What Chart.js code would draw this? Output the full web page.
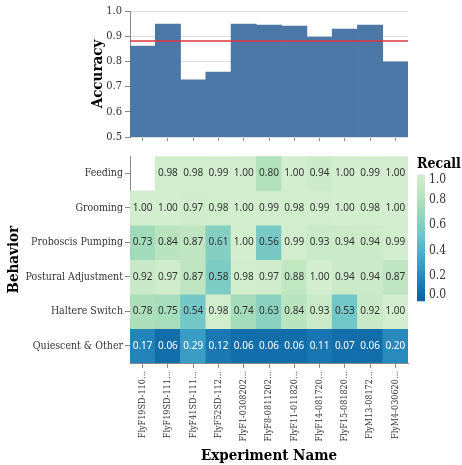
<!DOCTYPE html>
<html>
<head>
<meta charset="utf-8">
<script src="https://cdn.jsdelivr.net/npm/chart.js@4.4.1/dist/chart.umd.min.js"></script>
<style>
  body { margin: 0; background: #fff; }
  #wrap { position: relative; width: 462px; height: 465px; }
  #accuracy { position: absolute; left: 0; top: 0; }
  #recall { position: absolute; left: 0; top: 148px; }
</style>
</head>
<body>
<div id="wrap">
  <canvas id="accuracy" width="462" height="148"></canvas>
  <canvas id="recall" width="462" height="317"></canvas>
</div>
<script>
const experiments = ['FlyF19SD-110…', 'FlyF19SD-111…', 'FlyF41SD-111…', 'FlyF52SD-112…', 'FlyF1-0308202…',
  'FlyF8-0811202…', 'FlyF11-011820…', 'FlyF14-081720…', 'FlyF15-081820…', 'FlyM13-08172…', 'FlyM4-030620…'];
const accuracy = [0.861, 0.948, 0.727, 0.758, 0.948, 0.944, 0.940, 0.897, 0.928, 0.944, 0.798];
const accuracyMean = 0.881;

const behaviors = ['Feeding', 'Grooming', 'Proboscis Pumping', 'Postural Adjustment', 'Haltere Switch', 'Quiescent & Other'];
const recallFeeding = [null, 0.98, 0.98, 0.99, 1.00, 0.80, 1.00, 0.94, 1.00, 0.99, 1.00];
const recallGrooming = [1.00, 1.00, 0.97, 0.98, 1.00, 0.99, 0.98, 0.99, 1.00, 0.98, 1.00];
const recallProboscis = [0.73, 0.84, 0.87, 0.61, 1.00, 0.56, 0.99, 0.93, 0.94, 0.94, 0.99];
const recallPostural = [0.92, 0.97, 0.87, 0.58, 0.98, 0.97, 0.88, 1.00, 0.94, 0.94, 0.87];
const recallHaltere = [0.78, 0.75, 0.54, 0.98, 0.74, 0.63, 0.84, 0.93, 0.53, 0.92, 1.00];
const recallQuiescent = [0.17, 0.06, 0.29, 0.12, 0.06, 0.06, 0.06, 0.11, 0.07, 0.06, 0.20];
const recall = [recallFeeding, recallGrooming, recallProboscis, recallPostural, recallHaltere, recallQuiescent];

const legendTicks = [0, 0.2, 0.4, 0.6, 0.8, 1.0];

// greenblue scheme, light (recall 1) -> dark (recall 0)
const scheme = ['#d3eece', '#c5e8c3', '#b1e1bb', '#9bd8bb', '#82cec2', '#69c2ca',
  '#51b2cd', '#3c9fc7', '#288abd', '#1675b1', '#0b60a1'];

const serif = "'DejaVu Serif Condensed', 'DejaVu Serif', serif";
const sans = "'Noto Sans', sans-serif";

function hexToRgb(h) {
  return [parseInt(h.slice(1, 3), 16), parseInt(h.slice(3, 5), 16), parseInt(h.slice(5, 7), 16)];
}

function recallColor(v) {
  let t = (1 - Math.max(0, Math.min(1, v))) * (scheme.length - 1);
  let i = Math.min(Math.floor(t), scheme.length - 2);
  let f = t - i;
  let a = hexToRgb(scheme[i]), b = hexToRgb(scheme[i + 1]);
  let c = a.map((x, k) => Math.round(x + (b[k] - x) * f));
  return `rgb(${c[0]},${c[1]},${c[2]})`;
}

// red rule at the mean accuracy, drawn over the bars
const meanLine = {
  id: 'meanLine',
  afterDatasetsDraw(chart) {
    const ctx = chart.ctx, area = chart.chartArea;
    const y = chart.scales.y.getPixelForValue(accuracyMean);
    ctx.save();
    ctx.strokeStyle = '#e0353a';
    ctx.lineWidth = 1.5;
    ctx.beginPath();
    ctx.moveTo(area.left, y);
    ctx.lineTo(area.right, y);
    ctx.stroke();
    ctx.restore();
  }
};

new Chart(document.getElementById('accuracy'), {
  type: 'bar',
  data: {
    labels: experiments,
    datasets: [{
      data: accuracy,
      backgroundColor: '#4c78a8',
      barPercentage: 1,
      categoryPercentage: 1
    }]
  },
  options: {
    responsive: false,
    animation: false,
    layout: { padding: { top: 11, right: 54, left: 0, bottom: 0 } },
    plugins: { legend: { display: false }, tooltip: { enabled: false } },
    scales: {
      x: {
        grid: { offset: false, drawOnChartArea: false, tickLength: 4, color: '#888' },
        border: { display: false },
        ticks: { display: false },
        afterFit: a => { a.height = 11; }
      },
      y: {
        min: 0.5,
        max: 1,
        ticks: {
          stepSize: 0.1,
          callback: v => v.toFixed(1),
          font: { family: serif, size: 11 },
          color: '#333',
          padding: 3
        },
        grid: { color: '#ddd', tickColor: '#888', tickLength: 5 },
        border: { display: true, color: '#888' },
        title: {
          display: true,
          text: 'Accuracy',
          font: { family: serif, size: 15, weight: 'bold' },
          color: '#000',
          padding: { top: 89 }
        },
        afterFit: a => { a.width = 130; }
      }
    }
  },
  plugins: [meanLine]
});

const cellLabels = {
  id: 'cellLabels',
  afterDatasetsDraw(chart) {
    const ctx = chart.ctx;
    ctx.save();
    ctx.font = `10px ${sans}`;
    ctx.textAlign = 'center';
    ctx.textBaseline = 'middle';
    chart.data.datasets.forEach((ds, i) => {
      chart.getDatasetMeta(i).data.forEach((bar, j) => {
        const v = ds.recall[j];
        if (v == null) return;
        ctx.fillStyle = v < 0.5 ? '#fff' : '#333';
        ctx.fillText(v.toFixed(2), bar.x, (bar.y + bar.base) / 2);
      });
    });
    ctx.restore();
  }
};

const recallLegend = {
  id: 'recallLegend',
  afterDraw(chart) {
    const ctx = chart.ctx, area = chart.chartArea;
    const x = area.right + 9, top = area.top + 18, h = 127, w = 8;
    ctx.save();
    ctx.font = `bold 14px ${serif}`;
    ctx.fillStyle = '#000';
    ctx.textAlign = 'left';
    ctx.textBaseline = 'alphabetic';
    ctx.fillText('Recall', x, top - 6);

    const grad = ctx.createLinearGradient(0, top + h, 0, top);
    for (let k = 0; k <= 10; k++) grad.addColorStop(k / 10, recallColor(k / 10));
    ctx.fillStyle = grad;
    ctx.fillRect(x, top, w, h);

    ctx.font = `12px ${serif}`;
    ctx.fillStyle = '#333';
    legendTicks.forEach(v => {
      const y = top + (1 - v) * h;
      ctx.textBaseline = v === 1 ? 'top' : v === 0 ? 'bottom' : 'middle';
      ctx.fillText(v.toFixed(1), x + w + 4, y);
    });
    ctx.restore();
  }
};

// bottom: recall heatmap, one stacked row per behavior
new Chart(document.getElementById('recall'), {
  type: 'bar',
  data: {
    labels: experiments,
    datasets: behaviors.map((name, i) => ({
      label: name,
      data: recall[i].map(() => 1),
      recall: recall[i],
      backgroundColor: recall[i].map(v => v == null ? 'rgba(0,0,0,0)' : recallColor(v)),
      barPercentage: 1,
      categoryPercentage: 1,
      borderWidth: 0
    }))
  },
  options: {
    responsive: false,
    animation: false,
    layout: { padding: { top: 7, right: 54, left: 0, bottom: 0 } },
    plugins: { legend: { display: false }, tooltip: { enabled: false } },
    scales: {
      x: {
        stacked: true,
        grid: { offset: false, drawOnChartArea: false, tickLength: 5, color: '#888' },
        border: { display: true, color: '#888' },
        ticks: {
          minRotation: 90,
          maxRotation: 90,
          autoSkip: false,
          font: { family: serif, size: 9 },
          color: '#333',
          padding: 3
        },
        title: {
          display: true,
          text: 'Experiment Name',
          font: { family: serif, size: 15, weight: 'bold' },
          color: '#000',
          padding: { top: 0, bottom: 0 }
        },
        afterFit: a => { a.height = 102; }
      },
      y: {
        stacked: true,
        min: 0,
        max: behaviors.length,
        reverse: true,
        afterBuildTicks: a => { a.ticks = behaviors.map((b, i) => ({ value: i + 0.5 })); },
        ticks: {
          callback: v => behaviors[Math.floor(v)],
          autoSkip: false,
          font: { family: serif, size: 10.5 },
          color: '#333',
          padding: 2
        },
        grid: { drawOnChartArea: false, tickLength: 5, color: '#888' },
        border: { display: true, color: '#888' },
        title: {
          display: true,
          text: 'Behavior',
          font: { family: serif, size: 15, weight: 'bold' },
          color: '#000',
          padding: { top: 5 }
        },
        afterFit: a => { a.width = 130; }
      }
    }
  },
  plugins: [cellLabels, recallLegend]
});
</script>
</body>
</html>
